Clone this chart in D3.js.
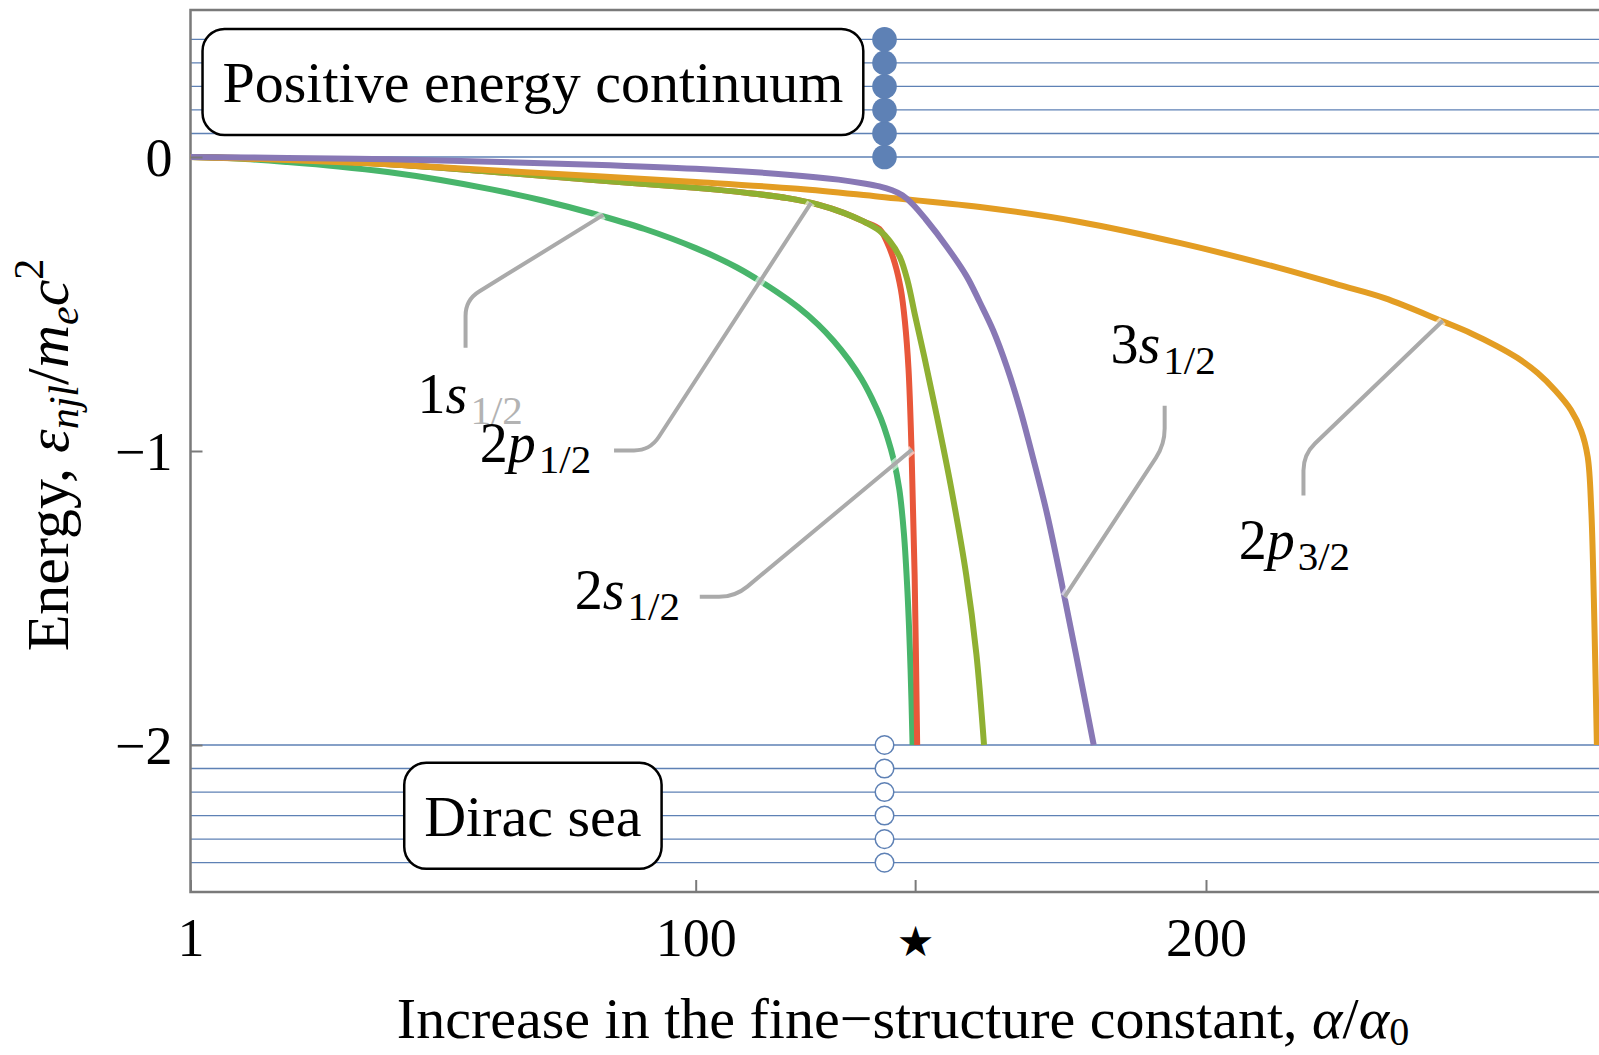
<!DOCTYPE html>
<html>
<head>
<meta charset="utf-8">
<script src="https://cdn.jsdelivr.net/npm/d3@7"></script>
<style>
  body { margin: 0; background: #fff; }
  svg { display: block; }
  text { font-family: "Liberation Serif", "Times New Roman", serif; fill: #000; }
</style>
</head>
<body>
<svg id="chart" width="1599" height="1055"></svg>
<script>
// axis ticks
var xTicks = [1, 100, 143, 200];
var xTickLabels = ["1", "100", "\u2605", "200"];
var yTicks = [0, -1, -2];
var yTickLabels = ["0", "\u22121", "\u22122"];

// energy levels of the two continua (drawn at alpha/alpha0 = 137)
var levelX = 137;
var posLevels = [0, 0.08, 0.16, 0.24, 0.32, 0.4];
var negLevels = [-2, -2.08, -2.16, -2.24, -2.32, -2.4];

// series
var x1s = [1, 10, 20, 30, 40, 50, 60, 70, 80, 90, 100, 108, 116, 120, 124, 127, 130, 132.5, 134.5, 136.3, 137.6, 138.8, 139.9, 140.8, 141.5, 142.1, 142.5];
var e1s = [0, -0.005, -0.017, -0.032, -0.052, -0.078, -0.11, -0.148, -0.193, -0.245, -0.31, -0.375, -0.46, -0.51, -0.57, -0.625, -0.69, -0.755, -0.82, -0.89, -0.955, -1.03, -1.13, -1.28, -1.48, -1.74, -2];

var x2s = [1, 20, 40, 60, 80, 100, 110, 118, 124, 129, 133, 136, 137.5, 139, 140.2, 141, 141.7, 142.3, 142.9, 143.4];
var e2s = [0, -0.008, -0.025, -0.05, -0.078, -0.105, -0.122, -0.14, -0.162, -0.19, -0.22, -0.245, -0.29, -0.36, -0.45, -0.56, -0.72, -1.0, -1.42, -2];

var x2p12 = [1, 20, 40, 60, 80, 100, 110, 118, 124, 129, 133, 136, 138, 140, 141.5, 143, 144.8, 147, 150, 153, 155, 156.5];
var e2p12 = [0, -0.008, -0.025, -0.05, -0.078, -0.105, -0.122, -0.14, -0.162, -0.19, -0.22, -0.25, -0.285, -0.34, -0.42, -0.54, -0.68, -0.86, -1.12, -1.42, -1.69, -2];

var x2p32 = [1, 20, 40, 60, 80, 100, 120, 136, 155.7, 175, 195, 214.5, 226, 235, 246.5, 252, 257, 261, 265, 268.5, 271.5, 273.5, 274.8, 275.5, 276, 276.6];
var e2p32 = [0, -0.01, -0.025, -0.045, -0.065, -0.085, -0.108, -0.135, -0.17, -0.22, -0.293, -0.378, -0.435, -0.48, -0.56, -0.6, -0.643, -0.683, -0.735, -0.795, -0.86, -0.93, -1.02, -1.2, -1.5, -2];

var x3s = [1, 20, 40, 60, 80, 100, 118, 128, 133, 136, 138.5, 140.5, 142.5, 145, 149.2, 153.1, 155.7, 158.3, 161, 163.6, 166.2, 168.8, 171.5, 174.5, 178];
var e3s = [0, -0.003, -0.008, -0.016, -0.026, -0.04, -0.06, -0.077, -0.09, -0.1, -0.113, -0.13, -0.16, -0.21, -0.305, -0.406, -0.495, -0.59, -0.715, -0.86, -1.03, -1.21, -1.43, -1.69, -2];

var seriesX = [x1s, x2s, x2p12, x2p32, x3s];
var seriesE = [e1s, e2s, e2p12, e2p32, e3s];
var seriesColors = ["#48b56b", "#e8573a", "#8fb032", "#e39d23", "#8878b5"];

// callouts: label text parts, label anchor and leader (start, corner, tip) in data units
var labelParts = [
  [["1"], ["s", "i"], ["1/2", "sub"]],
  [["2"], ["p", "i"], ["1/2", "sub"]],
  [["2"], ["s", "i"], ["1/2", "sub"]],
  [["3"], ["s", "i"], ["1/2", "sub"]],
  [["2"], ["p", "i"], ["3/2", "sub"]]
];
var labelAt = [[45.5, -0.871], [57.7, -1.039], [76.3, -1.538], [181.3, -0.7], [206.4, -1.368]];
var leaderPts = [
  [[54.9, -0.649], [54.9, -0.486], [81.9, -0.197]],
  [[84, -0.998], [91.05, -0.998], [122.6, -0.156]],
  [[100.8, -1.496], [107.7, -1.496], [142.4, -0.995]],
  [[191.9, -0.846], [191.9, -0.978], [172.3, -1.496]],
  [[219.1, -1.151], [219.1, -1.012], [246.4, -0.557]]
];
var boxTexts = ["Positive energy continuum", "Dirac sea"];
var boxAt = [[68.1, 0.255], [68.1, -2.241]];

var svg = d3.select("#chart"),
    margin = {top: 10, left: 190.5, bottom: 163},
    height = +svg.attr("height") - margin.top - margin.bottom;

var x = d3.scaleLinear().domain([1, 280]).range([margin.left, margin.left + 279 * 5.103]);
var y = d3.scaleLinear().domain([-2.5, 0.5]).range([margin.top + height, margin.top]);
var frameColor = "#7a7a7a";
var levelColor = "#5e81b5";

// continuum level lines
svg.append("g").selectAll("line")
  .data(posLevels.concat(negLevels))
  .enter().append("line")
  .attr("x1", x(1)).attr("x2", x(280))
  .attr("y1", d => y(d)).attr("y2", d => y(d))
  .attr("stroke", levelColor).attr("stroke-width", 1.3);

// labelled boxes
boxTexts.forEach(function(t, i){
  var g = svg.append("g");
  var rect = g.append("rect");
  var txt = g.append("text")
    .attr("x", x(boxAt[i][0])).attr("y", y(boxAt[i][1]) + 20)
    .attr("text-anchor", "middle")
    .style("font-size", "58px")
    .text(t);
  var w = txt.node().getComputedTextLength() + 40;
  rect.attr("x", x(boxAt[i][0]) - w / 2).attr("y", y(boxAt[i][1]) - 53)
    .attr("width", w).attr("height", 106)
    .attr("rx", 22).attr("ry", 22)
    .attr("fill", "#fff").attr("stroke", "#000").attr("stroke-width", 2.5);
});

// level markers
svg.append("g").selectAll("circle")
  .data(posLevels)
  .enter().append("circle")
  .attr("cx", x(levelX)).attr("cy", d => y(d)).attr("r", 12.3)
  .attr("fill", levelColor);
svg.append("g").selectAll("circle")
  .data(negLevels)
  .enter().append("circle")
  .attr("cx", x(levelX)).attr("cy", d => y(d)).attr("r", 9.3)
  .attr("fill", "#fff").attr("stroke", levelColor).attr("stroke-width", 1.5);

// frame
svg.append("rect")
  .attr("x", x(1)).attr("y", y(0.5))
  .attr("width", x(280) - x(1)).attr("height", y(-2.5) - y(0.5))
  .attr("fill", "none").attr("stroke", frameColor).attr("stroke-width", 2.5);

// energy curves
var line = d3.line()
  .curve(d3.curveCatmullRom.alpha(0.5))
  .x(d => x(d[0]))
  .y(d => y(d[1]));
seriesX.forEach(function(xs, i){
  svg.append("path")
    .datum(xs.map((v, k) => [v, seriesE[i][k]]))
    .attr("d", line)
    .attr("fill", "none")
    .attr("stroke", seriesColors[i])
    .attr("stroke-width", 6)
    .attr("stroke-linejoin", "round");
});

// axes
var xAxis = svg.append("g")
  .attr("transform", "translate(0," + y(-2.5) + ")")
  .call(d3.axisBottom(x).tickValues(xTicks).tickSizeInner(-12).tickSizeOuter(0).tickPadding(26)
    .tickFormat((d, i) => xTickLabels[i]));
xAxis.select(".domain").remove();
xAxis.selectAll("line").attr("stroke", frameColor).attr("stroke-width", 2);
xAxis.selectAll("text")
  .attr("fill", "#000")
  .style("font-size", "54px");
xAxis.selectAll("text").filter(d => d == 143)
  .style("font-size", "42px")
  .style("font-family", "DejaVu Sans")
  .attr("dy", "0.9em");

var yAxis = svg.append("g")
  .attr("transform", "translate(" + x(1) + ",0)")
  .call(d3.axisLeft(y).tickValues(yTicks).tickSizeInner(-12).tickSizeOuter(0).tickPadding(18)
    .tickFormat((d, i) => yTickLabels[i]));
yAxis.select(".domain").remove();
yAxis.selectAll("line").attr("stroke", frameColor).attr("stroke-width", 2);
yAxis.selectAll("text").attr("fill", "#000").attr("dy", "0.34em").style("font-size", "54px");

// callout leaders
function toward(a, b, len){
  var dx = b[0] - a[0], dy = b[1] - a[1], L = Math.hypot(dx, dy);
  return [a[0] + dx / L * len, a[1] + dy / L * len];
}
function leaderPath(pts){
  var p = pts.map(d => [x(d[0]), y(d[1])]);
  var p1 = toward(p[1], p[0], 16), p2 = toward(p[1], p[2], 16);
  var path = d3.path();
  path.moveTo(p[0][0], p[0][1]);
  path.lineTo(p1[0], p1[1]);
  path.quadraticCurveTo(p[1][0], p[1][1], p2[0], p2[1]);
  path.lineTo(p[2][0], p[2][1]);
  return path.toString();
}
leaderPts.forEach(function(pts){
  svg.append("path").attr("d", leaderPath(pts))
    .attr("fill", "none").attr("stroke", "#fff").attr("stroke-opacity", 0.6).attr("stroke-width", 9);
  svg.append("path").attr("d", leaderPath(pts))
    .attr("fill", "none").attr("stroke", "#aaaaaa").attr("stroke-width", 4);
});

// callout labels
labelParts.forEach(function(parts, i){
  var t = svg.append("text")
    .attr("x", x(labelAt[i][0])).attr("y", y(labelAt[i][1]))
    .style("font-size", "56px");
  parts.forEach(function(p){
    var s = t.append("tspan").text(p[0]);
    if (p[1] == "i") s.style("font-style", "italic");
    if (p[1] == "sub") {
      s.style("font-size", "41px").attr("dy", 11).attr("dx", 3);
      if (i == 0) s.attr("fill", "#b3b3b3");
    }
  });
});

// axis titles
var xt = svg.append("text")
  .attr("x", 903).attr("y", 1038)
  .attr("text-anchor", "middle")
  .style("font-size", "58px");
xt.append("tspan").text("Increase in the fine\u2212structure constant, ");
xt.append("tspan").style("font-style", "italic").text("\u03b1");
xt.append("tspan").text("/");
xt.append("tspan").style("font-style", "italic").text("\u03b1");
xt.append("tspan").style("font-size", "40px").attr("dy", 7).text("0");

var yt = svg.append("text")
  .attr("transform", "translate(68," + 455 + ") rotate(-90)")
  .attr("text-anchor", "middle")
  .style("font-size", "60px");
yt.append("tspan").text("Energy, ");
yt.append("tspan").style("font-style", "italic").text("\u03b5");
yt.append("tspan").style("font-style", "italic").style("font-size", "42px").attr("dy", 10).text("njl");
yt.append("tspan").attr("dy", -10).text("/");
yt.append("tspan").style("font-style", "italic").text("m");
yt.append("tspan").style("font-style", "italic").style("font-size", "42px").attr("dy", 10).text("e");
yt.append("tspan").style("font-style", "italic").attr("dy", -10).text("c");
yt.append("tspan").style("font-size", "42px").attr("dy", -25).text("2");
</script>
</body>
</html>
